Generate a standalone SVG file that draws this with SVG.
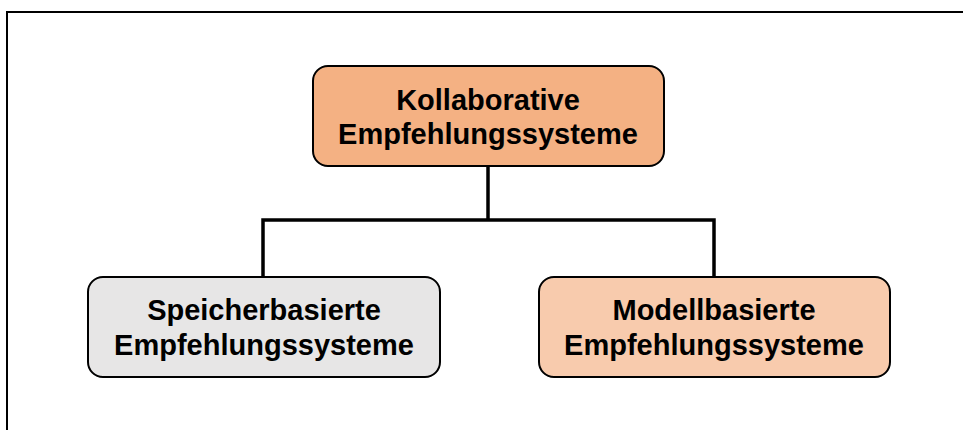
<svg xmlns="http://www.w3.org/2000/svg" width="963" height="430" viewBox="0 0 963 430">
  <style>
    .box { stroke: #000; stroke-width: 2; }
    .lbl { font-family: "Liberation Sans", Arial, sans-serif; font-weight: bold; font-size: 29px; fill: #000; text-anchor: middle; }
    .wire { fill: none; stroke: #000; stroke-width: 3.5; }
  </style>
  <rect width="963" height="430" fill="#fff"/>
  <!-- outer frame, open to the right and bottom -->
  <path d="M7 440 V12 H975" fill="none" stroke="#000" stroke-width="2"/>

  <g id="connectors">
    <path class="wire" d="M488 166 V220"/>
    <path class="wire" d="M263 276 V220 H714 V276"/>
  </g>

  <g id="node-kollaborativ">
    <rect class="box" x="313" y="66" width="351" height="100" rx="15" fill="#F4B183"/>
    <text class="lbl" x="488" y="110">Kollaborative</text>
    <text class="lbl" x="488" y="144">Empfehlungssysteme</text>
  </g>

  <g id="node-speicherbasiert">
    <rect class="box" x="88" y="277" width="352" height="100" rx="15" fill="#E7E6E6"/>
    <text class="lbl" x="264" y="320">Speicherbasierte</text>
    <text class="lbl" x="264" y="355">Empfehlungssysteme</text>
  </g>

  <g id="node-modellbasiert">
    <rect class="box" x="539" y="277" width="351" height="100" rx="15" fill="#F8CBAD"/>
    <text class="lbl" x="714" y="320">Modellbasierte</text>
    <text class="lbl" x="714" y="355">Empfehlungssysteme</text>
  </g>
</svg>
